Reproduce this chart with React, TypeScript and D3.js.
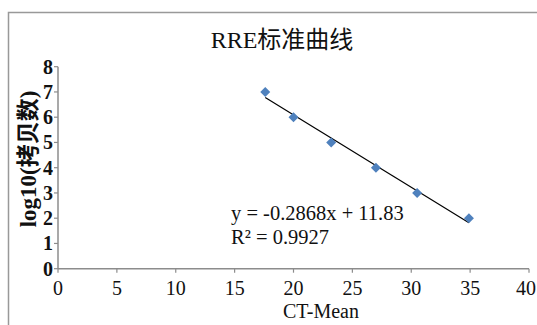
import React from "react";
import * as d3 from "d3";

// data
const ctMean = [17.6, 20.0, 23.2, 27.0, 30.5, 34.9];
const logCopies = [7, 6, 5, 4, 3, 2];
const xTicks = [0, 5, 10, 15, 20, 25, 30, 35, 40];
const yTicks = [0, 1, 2, 3, 4, 5, 6, 7, 8];
const slope = -0.2868;
const intercept = 11.83;
const equationLabel = "y = -0.2868x + 11.83";
const r2Label = "R² = 0.9927";

const W = 537;
const H = 325;
const margin = { top: 66.7, right: 8, bottom: 56.3, left: 58 };
const font = "'Liberation Serif', 'Times New Roman', 'Noto Sans CJK SC', serif";

const App: React.FC = () => {
  const x = d3.scaleLinear().domain([0, 40]).range([margin.left, W - margin.right]);
  const y = d3.scaleLinear().domain([0, 8]).range([H - margin.bottom, margin.top]);

  const points = ctMean.map((c, i) => ({ x: c, y: logCopies[i] }));
  const xMin = d3.min(ctMean) as number;
  const xMax = d3.max(ctMean) as number;
  const trend = [
    { x: xMin, y: slope * xMin + intercept },
    { x: xMax, y: slope * xMax + intercept },
  ];
  const line = d3
    .line<{ x: number; y: number }>()
    .x((d) => x(d.x))
    .y((d) => y(d.y));
  const diamond = d3.symbol().type(d3.symbolDiamond2).size(64)();

  const axisColor = "#8c8c8c";

  return (
    <svg
      width={W}
      height={H}
      style={{ position: "absolute", left: 0, top: 0, background: "#fff" }}
      fontFamily={font}
    >
      {/* chart border */}
      <rect x={8.5} y={12.5} width={W} height={H} fill="none" stroke="#999" strokeWidth={1.5} />

      <text x={282} y={48} textAnchor="middle" fontSize={24} fill="#111">
        RRE标准曲线
      </text>

      {/* y axis */}
      <line x1={x(0)} x2={x(0)} y1={y(0)} y2={y(8)} stroke={axisColor} strokeWidth={1.5} />
      {yTicks.map((t) => (
        <g key={`y${t}`}>
          <line x1={x(0) - 4} x2={x(0)} y1={y(t)} y2={y(t)} stroke={axisColor} strokeWidth={1.2} />
          <text
            x={x(0) - 5}
            y={y(t)}
            dy="0.35em"
            textAnchor="end"
            fontSize={20}
            fontWeight="bold"
            fill="#111"
          >
            {t}
          </text>
        </g>
      ))}

      {/* x axis */}
      <line x1={x(0)} x2={x(40)} y1={y(0)} y2={y(0)} stroke={axisColor} strokeWidth={1.5} />
      {xTicks.map((t) => {
        const last = t === xTicks[xTicks.length - 1];
        return (
          <g key={`x${t}`}>
            <line x1={x(t)} x2={x(t)} y1={y(0)} y2={y(0) + 4} stroke={axisColor} strokeWidth={1.2} />
            <text
              x={last ? W - 1 : x(t)}
              y={y(0) + 26}
              textAnchor={last ? "end" : "middle"}
              fontSize={20}
              fill="#111"
            >
              {t}
            </text>
          </g>
        );
      })}

      <text
        transform={`translate(36,${159}) rotate(-90)`}
        textAnchor="middle"
        fontSize={23}
        fontWeight="bold"
        fill="#111"
      >
        log10(拷贝数)
      </text>
      <text x={321} y={318} textAnchor="middle" fontSize={20} fill="#111">
        CT-Mean
      </text>

      {/* trendline */}
      <path d={line(trend) || ""} fill="none" stroke="#000" strokeWidth={1.2} />

      {points.map((p, i) => (
        <path
          key={i}
          d={diamond || ""}
          transform={`translate(${x(p.x)},${y(p.y)})`}
          fill="#4f81bd"
        />
      ))}

      <text x={231} y={220} fontSize={20.5} fill="#111">
        {equationLabel}
      </text>
      <text x={231} y={244} fontSize={20.5} fill="#111">
        {r2Label}
      </text>
    </svg>
  );
};

export default App;
